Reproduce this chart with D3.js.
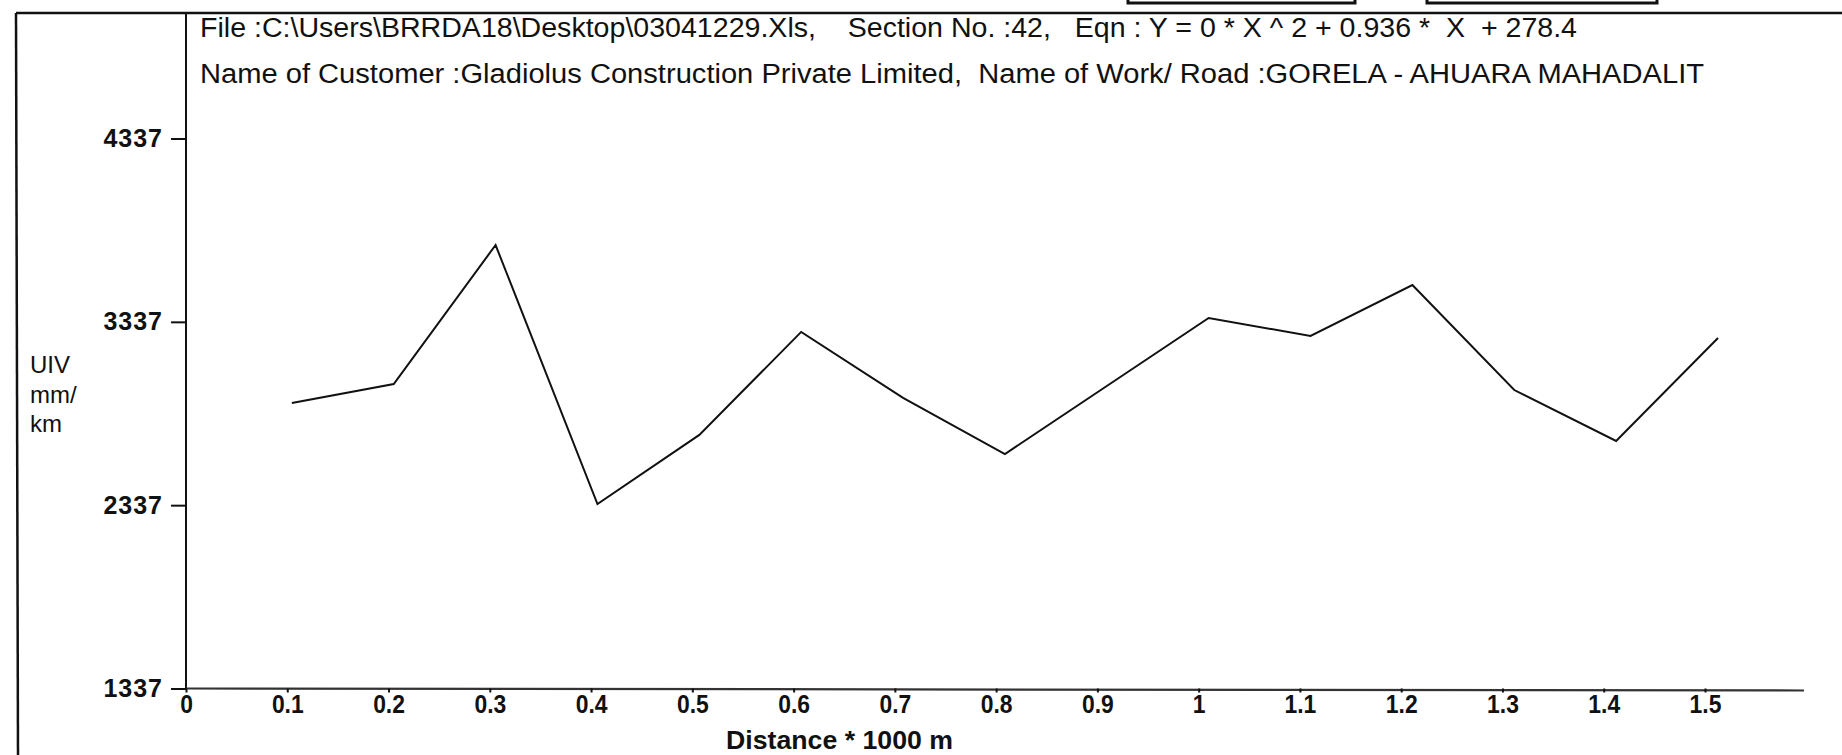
<!DOCTYPE html>
<html>
<head>
<meta charset="utf-8">
<script src="https://cdn.jsdelivr.net/npm/d3@7"></script>
<style>
    html, body { margin: 0; padding: 0; background: #fff; }
    svg { display: block; }
    .title { font-family: 'Liberation Sans Narrow', 'Arial Narrow', 'Liberation Sans', sans-serif; font-size: 27px; fill: #111; }
    .ylab { font-family: 'Liberation Sans', Arial, sans-serif; font-size: 24px; fill: #111; }
    .axis text { font-family: 'Liberation Sans', Arial, sans-serif; font-weight: bold; fill: #111; }
    .axis line { stroke: #111; stroke-width: 2; }
</style>
</head>
<body>
<svg id="chart" width="1842" height="755"></svg>
<script>
'use strict';

var titleLines = [
    'File :C:\\Users\\BRRDA18\\Desktop\\03041229.Xls,    Section No. :42,   Eqn : Y = 0 * X ^ 2 + 0.936 *  X  + 278.4',
    'Name of Customer :Gladiolus Construction Private Limited,  Name of Work/ Road :GORELA - AHUARA MAHADALIT'
];
var yTitle = ['UIV', 'mm/', 'km'];
var xTitle = 'Distance * 1000 m';

var yTicks = [1337, 2337, 3337, 4337];
var xTicks = [0, 0.1, 0.2, 0.3, 0.4, 0.5, 0.6, 0.7, 0.8, 0.9, 1, 1.1, 1.2, 1.3, 1.4, 1.5];
var xTickLabels = ['0', '0.1', '0.2', '0.3', '0.4', '0.5', '0.6', '0.7', '0.8', '0.9', '1', '1.1', '1.2', '1.3', '1.4', '1.5'];

var distance = [0.1, 0.2, 0.3, 0.4, 0.5, 0.6, 0.7, 0.8, 0.9, 1.0, 1.1, 1.2, 1.3, 1.4, 1.5];
var uiv = [2894, 2998, 3756, 2343, 2720, 3282, 2922, 2616, 2987, 3358, 3260, 3538, 2965, 2687, 3249];

function draw () {
    var svg = d3.select('#chart');

    var y = d3.scaleLinear().domain([1337, 4337]).range([688.5, 138.5]);
    // the plotted points sit on a slightly wider spacing than the printed tick labels
    var x = d3.scaleLinear().domain([0, 1.5]).range([190, 1718]);
    var xLabel = d3.scaleLinear().domain([0, 1.5]).range([186, 1705]);

    var frame = svg.append('g').attr('stroke', '#111').attr('fill', 'none');

    // tab buttons cut off at the top of the screen
    frame.append('rect').attr('x', 1128).attr('y', -20).attr('width', 227).attr('height', 23).attr('stroke-width', 3);
    frame.append('rect').attr('x', 1427).attr('y', -20).attr('width', 230).attr('height', 23).attr('stroke-width', 3);

    frame.append('line')
        .attr('x1', 16).attr('x2', 1842)
        .attr('y1', 13).attr('y2', 13)
        .attr('stroke-width', 2.5);

    frame.append('line')
        .attr('x1', 16).attr('x2', 18)
        .attr('y1', 13).attr('y2', 755)
        .attr('stroke-width', 2.5);

    // y axis line runs up to the frame
    frame.append('line')
        .attr('x1', 186).attr('x2', 186)
        .attr('y1', 13).attr('y2', y(1337))
        .attr('stroke-width', 2);

    frame.append('line')
        .attr('x1', 186).attr('x2', 1804)
        .attr('y1', y(1337)).attr('y2', y(1337) + 2)
        .attr('stroke-width', 2.2)
        .attr('stroke', '#333');

    svg.selectAll('.title')
        .data(titleLines)
        .enter().append('text')
        .attr('class', 'title')
        .attr('x', 200)
        .attr('y', function (d, i) { return 37 + i * 46; })
        .attr('textLength', function (d, i) { return i === 0 ? 1377 : 1504; })
        .attr('lengthAdjust', 'spacingAndGlyphs')
        .style('white-space', 'pre')
        .text(function (d) { return d; });

    svg.selectAll('.ylab')
        .data(yTitle)
        .enter().append('text')
        .attr('class', 'ylab')
        .attr('x', 30)
        .attr('y', function (d, i) { return 373 + i * 29.5; })
        .text(function (d) { return d; });

    var yAxis = d3.axisLeft(y)
        .tickValues(yTicks)
        .tickSize(15)
        .tickPadding(8)
        .tickFormat(d3.format('d'));

    svg.append('g')
        .attr('class', 'axis')
        .attr('transform', 'translate(186,0)')
        .call(yAxis)
        .call(function (g) { g.select('.domain').remove(); })
        .selectAll('text')
            .style('font-size', '25px')
            .style('letter-spacing', '1px');

    var xAxis = d3.axisBottom(xLabel)
        .tickValues(xTicks)
        .tickSize(4)
        .tickPadding(2)
        .tickFormat(function (d, i) { return xTickLabels[i]; });

    svg.append('g')
        .attr('class', 'axis')
        .attr('transform', 'translate(0,' + y(1337) + ')')
        .call(xAxis)
        .call(function (g) { g.select('.domain').remove(); })
        .selectAll('text')
            .style('font-size', '26px')
            .attr('transform', 'scale(0.88,1)');

    svg.append('text')
        .attr('class', 'title')
        .attr('x', 726)
        .attr('y', 749)
        .attr('textLength', 227)
        .attr('lengthAdjust', 'spacingAndGlyphs')
        .style('font-weight', 'bold')
        .style('font-size', '25px')
        .text(xTitle);

    var line = d3.line()
        .x(function (d) { return x(d[0]); })
        .y(function (d) { return y(d[1]); });

    svg.append('path')
        .datum(d3.zip(distance, uiv))
        .attr('d', line)
        .attr('fill', 'none')
        .attr('stroke', '#111')
        .attr('stroke-width', 2)
        .attr('stroke-linejoin', 'miter');
}

draw();
</script>
</body>
</html>
